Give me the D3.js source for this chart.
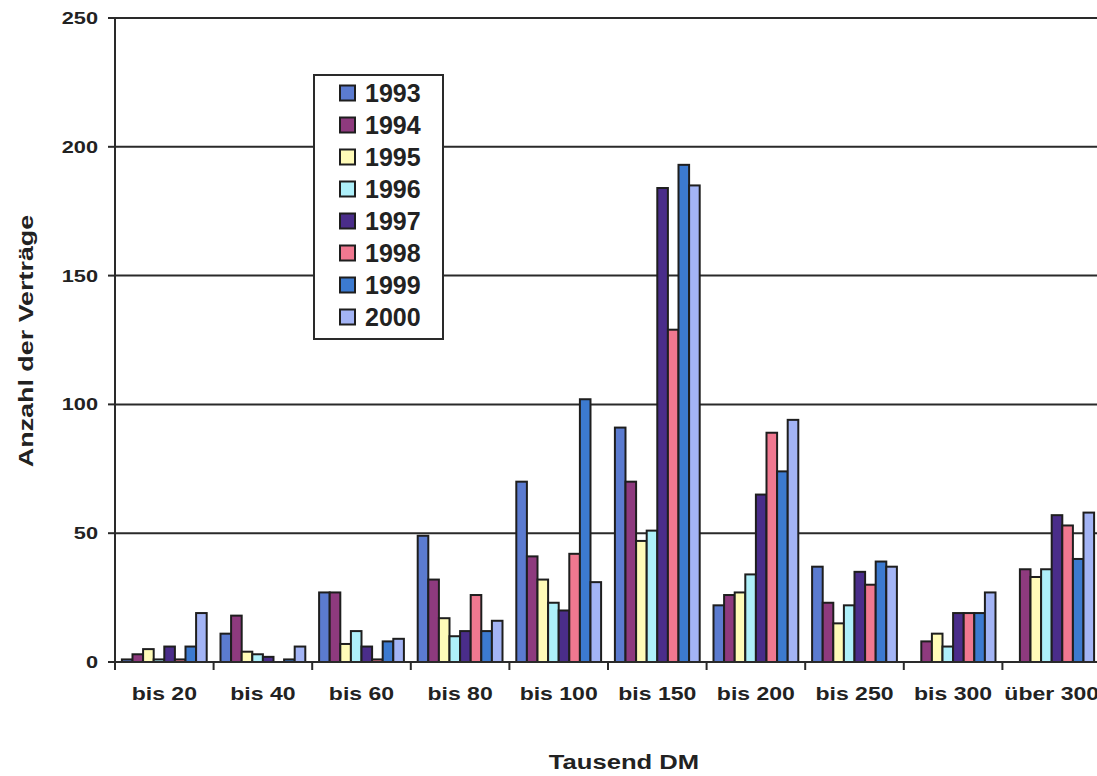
<!DOCTYPE html>
<html lang="de">
<head>
<meta charset="utf-8">
<title>Anzahl der Verträge</title>
<script src="https://cdnjs.cloudflare.com/ajax/libs/d3/7.8.5/d3.min.js"></script>
<style>
body { margin: 0; background: #fff; }
svg { display: block; font-family: "Liberation Sans", Arial, sans-serif; font-weight: bold; }
</style>
</head>
<body>
<script>

var categories = ["bis 20", "bis 40", "bis 60", "bis 80", "bis 100", "bis 150", "bis 200", "bis 250", "bis 300", "über 300"];
var years = ["1993", "1994", "1995", "1996", "1997", "1998", "1999", "2000"];

// one array per year, values per category
var v1993 = [1, 11, 27, 49, 70, 91, 22, 37, 0, 0];
var v1994 = [3, 18, 27, 32, 41, 70, 26, 23, 8, 36];
var v1995 = [5, 4, 7, 17, 32, 47, 27, 15, 11, 33];
var v1996 = [1, 3, 12, 10, 23, 51, 34, 22, 6, 36];
var v1997 = [6, 2, 6, 12, 20, 184, 65, 35, 19, 57];
var v1998 = [1, 0, 1, 26, 42, 129, 89, 30, 19, 53];
var v1999 = [6, 1, 8, 12, 102, 193, 74, 39, 19, 40];
var v2000 = [19, 6, 9, 16, 31, 185, 94, 37, 27, 58];
var series = [v1993, v1994, v1995, v1996, v1997, v1998, v1999, v2000];

var yTicks = [0, 50, 100, 150, 200, 250];
var colors = ["#5b7bd0", "#8e3a7e", "#fffbb8", "#aef0fa", "#4a2d8a", "#f07890", "#3c7ad0", "#a3b4f5"];

(function(){

var W = 1097, H = 776;
var mLeft = 115, mRight = 1101, mTop = 18, mBottom = 662;
var stretch = 1.28;   // the scanned axis text is wider than plain Arial
var ink = "#222";

var svg = d3.select("body").append("svg")
	.attr("width", W)
	.attr("height", H);

var x0 = d3.scaleBand()
	.domain(categories)
	.range([mLeft, mRight])
	.paddingInner(0.14)
	.paddingOuter(0.07);

var x1 = d3.scaleBand()
	.domain(years)
	.range([0, x0.bandwidth()]);

var y = d3.scaleLinear()
	.domain([0, 250])
	.range([mBottom, mTop]);

var color = d3.scaleOrdinal().domain(years).range(colors);

// a text placed at (x, y), widened along its own direction
function wideText(parent, x, yy, rot, size, anchor, str){
	var g = parent.append("g")
		.attr("transform", "translate(" + x + "," + yy + ") rotate(" + rot + ") scale(" + stretch + ",1)");
	g.append("text")
		.attr("text-anchor", anchor)
		.style("font-size", size + "px")
		.style("fill", ink)
		.text(str);
	return g;
}

// gridlines
svg.append("g")
	.selectAll("line")
	.data(yTicks.filter(function(d){ return d > 0; }))
	.enter()
	.append("line")
	.attr("x1", mLeft)
	.attr("x2", mRight)
	.attr("y1", function(d){ return y(d); })
	.attr("y2", function(d){ return y(d); })
	.style("stroke", "#2a2a2a")
	.style("stroke-width", 2);

// bars
var rows = [];
categories.forEach(function(c, i){
	years.forEach(function(yr, j){
		rows.push({cat: c, year: yr, value: series[j][i]});
	});
});

svg.append("g")
	.selectAll("rect")
	.data(rows.filter(function(d){ return d.value > 0; }))
	.enter()
	.append("rect")
	.attr("x", function(d){ return x0(d.cat) + x1(d.year); })
	.attr("y", function(d){ return y(d.value); })
	.attr("width", x1.bandwidth())
	.attr("height", function(d){ return y(0) - y(d.value); })
	.style("fill", function(d){ return color(d.year); })
	.style("stroke", "#1e1e1e")
	.style("stroke-width", 2);

// y axis
var gy = svg.append("g");
gy.append("line")
	.attr("x1", mLeft).attr("x2", mLeft)
	.attr("y1", mTop).attr("y2", mBottom);
gy.selectAll("line.tick")
	.data(yTicks)
	.enter()
	.append("line")
	.attr("class", "tick")
	.attr("x1", mLeft - 7).attr("x2", mLeft)
	.attr("y1", function(d){ return y(d); })
	.attr("y2", function(d){ return y(d); });
gy.selectAll("line").style("stroke", "#2a2a2a").style("stroke-width", 2);
yTicks.forEach(function(t){
	wideText(gy, 98, y(t) + 6, 0, 17, "end", t);
});

// x axis
var gx = svg.append("g");
gx.append("line")
	.attr("x1", mLeft - 7).attr("x2", mRight)
	.attr("y1", mBottom).attr("y2", mBottom);
gx.selectAll("line.tick")
	.data(categories)
	.enter()
	.append("line")
	.attr("class", "tick")
	.attr("x1", function(d){ return x0(d) - x0.step() * 0.07; })
	.attr("x2", function(d){ return x0(d) - x0.step() * 0.07; })
	.attr("y1", mBottom)
	.attr("y2", mBottom + 8);
gx.selectAll("line").style("stroke", "#2a2a2a").style("stroke-width", 2);
categories.forEach(function(c){
	wideText(gx, x0(c) + x0.bandwidth() / 2, 700, 0, 18, "middle", c);
});

// axis titles
wideText(svg, 33, 341, -90, 21, "middle", "Anzahl der Verträge");
wideText(svg, 624, 769, 0, 20, "middle", "Tausend DM");

// legend
var legend = svg.append("g")
	.attr("transform", "translate(314,75)");
legend.append("rect")
	.attr("width", 129)
	.attr("height", 264)
	.style("fill", "#fff")
	.style("stroke", "#2a2a2a")
	.style("stroke-width", 2);

var item = legend.selectAll("g.item")
	.data(years)
	.enter()
	.append("g")
	.attr("class", "item")
	.attr("transform", function(d, i){ return "translate(26," + (18 + i * 32) + ")"; });
item.append("rect")
	.attr("x", 0)
	.attr("y", -7.5)
	.attr("width", 15)
	.attr("height", 15)
	.style("fill", function(d){ return color(d); })
	.style("stroke", "#1e1e1e")
	.style("stroke-width", 2);
item.append("text")
	.attr("x", 25)
	.attr("y", 9)
	.style("font-size", "25px")
	.style("fill", ink)
	.text(function(d){ return d; });

})();

</script>
</body>
</html>
